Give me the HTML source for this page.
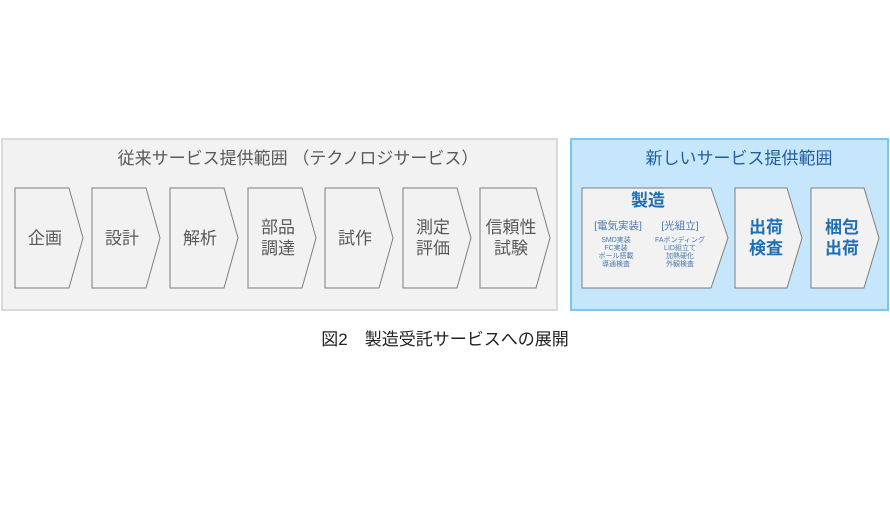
<!DOCTYPE html>
<html><head><meta charset="utf-8"><style>
body{margin:0;background:#fff;width:890px;height:500px;overflow:hidden}
text{font-family:"Liberation Sans","Noto Sans CJK JP",sans-serif}
</style></head><body>
<svg width="890" height="500" viewBox="0 0 890 500">
<rect x="2" y="139" width="555" height="171" fill="#f2f2f2" stroke="#d9d9d9" stroke-width="2"/>
<rect x="571" y="139" width="317" height="171" fill="#c5e6fb" stroke="#7cc5f0" stroke-width="2"/>
<text x="298" y="164" font-size="17" fill="#595959" text-anchor="middle">従来サービス提供範囲 （テクノロジサービス）</text>
<text x="739" y="164" font-size="17" fill="#1f5f9f" text-anchor="middle">新しいサービス提供範囲</text>
<g fill="#f2f2f2" stroke="#7f7f7f" stroke-width="1">
<polygon points="15,188 69,188 83,238 69,288 15,288"/>
<polygon points="92,188 146,188 160,238 146,288 92,288"/>
<polygon points="170,188 224,188 238,238 224,288 170,288"/>
<polygon points="248,188 302,188 316,238 302,288 248,288"/>
<polygon points="325,188 379,188 393,238 379,288 325,288"/>
<polygon points="403,188 457,188 471,238 457,288 403,288"/>
<polygon points="480,188 536,188 550,238 536,288 480,288"/>
<polygon points="582,188 711,188 728,238 711,288 582,288"/>
<polygon points="735,188 787,188 802,238 787,288 735,288"/>
<polygon points="811,188 864,188 879,238 864,288 811,288"/>
</g>
<g font-size="17" fill="#595959" text-anchor="middle">
<text x="45" y="244">企画</text>
<text x="122" y="244">設計</text>
<text x="200" y="244">解析</text>
<text x="278" y="233">部品</text><text x="278" y="254">調達</text>
<text x="355" y="244">試作</text>
<text x="433" y="233">測定</text><text x="433" y="254">評価</text>
<text x="511" y="233">信頼性</text><text x="511" y="254">試験</text>
</g>
<g fill="#1f6fb5" text-anchor="middle" font-weight="bold">
<text x="648" y="206" font-size="17">製造</text>
<text x="766" y="233" font-size="17">出荷</text><text x="766" y="254" font-size="17">検査</text>
<text x="842" y="233" font-size="17">梱包</text><text x="842" y="254" font-size="17">出荷</text>
</g>
<g fill="#4a7ab0" text-anchor="middle">
<text x="618" y="229" font-size="10.5">[電気実装]</text>
<text x="680" y="229" font-size="10.5">[光組立]</text>
<g font-size="7">
<text x="616" y="242">SMD実装</text><text x="616" y="250">FC実装</text><text x="616" y="258">ボール搭載</text><text x="616" y="266">導通検査</text>
<text x="680" y="242">FAボンディング</text><text x="680" y="250">LID組立て</text><text x="680" y="258">加熱硬化</text><text x="680" y="266">外観検査</text>
</g></g>
<text x="445" y="345" font-size="17" fill="#222" text-anchor="middle">図2　製造受託サービスへの展開</text>
</svg>
</body></html>
